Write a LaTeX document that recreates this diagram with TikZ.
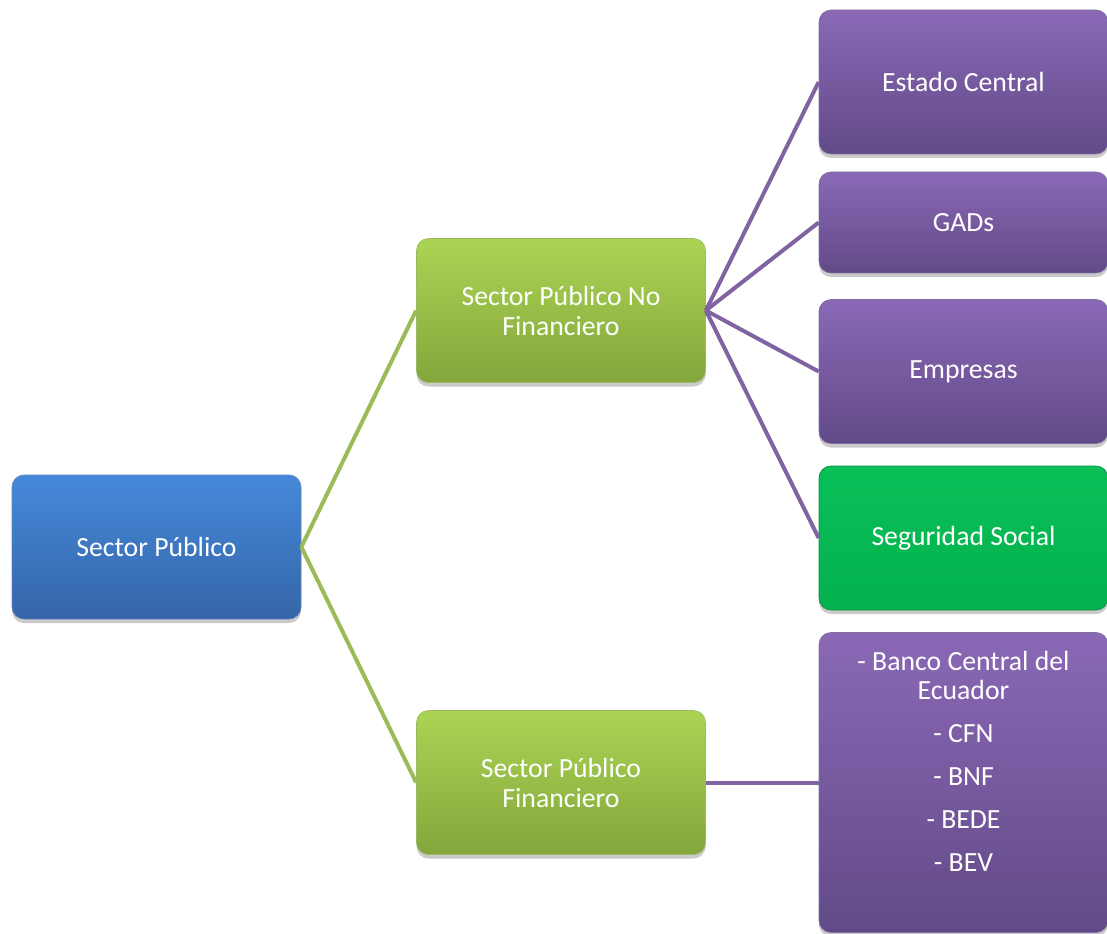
\documentclass[tikz,border=0pt]{standalone}
\usepackage{fontspec}
\setmainfont{Carlito}
\usetikzlibrary{shadows}
\definecolor{blueT}{HTML}{4589DA}
\definecolor{blueB}{HTML}{3565A8}
\definecolor{greenT}{HTML}{ABD454}
\definecolor{greenB}{HTML}{84A63C}
\definecolor{purpT}{HTML}{8A68B6}
\definecolor{purpB}{HTML}{624A88}
\definecolor{ssT}{HTML}{0ABF57}
\definecolor{ssB}{HTML}{04B24E}
\definecolor{lineG}{HTML}{9BBB59}
\definecolor{lineP}{HTML}{8064A2}
\tikzset{
  box/.style={rounded corners=9pt, minimum width=216.75pt, minimum height=108pt,
    text=white, align=center, font=\fontsize{20.8pt}{22.5pt}\selectfont, inner sep=0pt,
    drop shadow={shadow xshift=0pt, shadow yshift=-3pt, opacity=0.35, fill=black!60}},
  bluebox/.style={box, top color=blueT, bottom color=blueB, draw=blueB!80!white, line width=0.5pt},
  greenbox/.style={box, top color=greenT, bottom color=greenB, draw=greenB!80!white, line width=0.5pt},
  purpbox/.style={box, top color=purpT, bottom color=purpB, draw=purpB!80!white, line width=0.5pt},
  ssbox/.style={box, top color=ssT, bottom color=ssB, draw=ssB!80!black, line width=0.5pt},
  banktext/.style={text=white, align=center, font=\fontsize{20.8pt}{21.75pt}\selectfont, inner sep=0pt},
  glink/.style={draw=lineG, line width=3pt},
  plink/.style={draw=lineP, line width=3pt},
}
\begin{document}
\begin{tikzpicture}[x=0.75pt,y=-0.75pt]
\useasboundingbox (0,0) rectangle (1107,934);
\node[bluebox] (sp) at (156.5,547) {Sector Público};
\node[greenbox] (spnf) at (561,310.5) {Sector Público No\\Financiero};
\node[greenbox] (spf) at (561,782.5) {Sector Público\\Financiero};
\node[purpbox] (ec) at (963.5,82) {Estado Central};
\node[purpbox, minimum height=75.75pt] (gad) at (963.5,222.5) {GADs};
\node[purpbox] (emp) at (963.5,371.5) {Empresas};
\node[ssbox] (ss) at (963.5,538) {Seguridad Social};
\node[purpbox, minimum height=225pt] (bank) at (963.5,782.5) {};
\node[banktext] (banktxt) at (963.5,761)
  {- Banco Central del\\Ecuador\\[10.5pt]- CFN\\[10.5pt]- BNF\\[10.5pt]- BEDE\\[10.5pt]- BEV};
\draw[glink] (sp.east) -- (spnf.west);
\draw[glink] (sp.east) -- (spf.west);
\draw[plink] (spnf.east) -- (ec.west);
\draw[plink] (spnf.east) -- (gad.west);
\draw[plink] (spnf.east) -- (emp.west);
\draw[plink] (spnf.east) -- (ss.west);
\draw[plink] (spf.east) -- (bank.west);
\end{tikzpicture}
\end{document}
